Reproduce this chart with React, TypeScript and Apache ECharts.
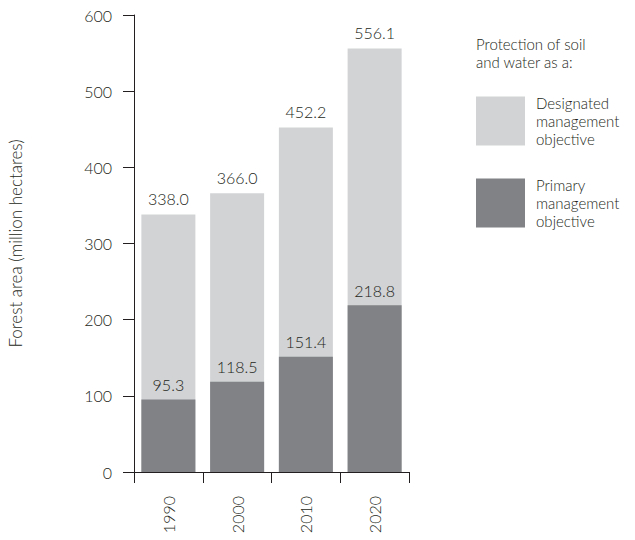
import React, { useEffect, useRef } from "react";
import * as echarts from "echarts";

// Forest area designated for protection of soil and water (million hectares)
const years = ["1990", "2000", "2010", "2020"];
const designatedValues = [338.0, 366.0, 452.2, 556.1];
const primaryValues = [95.3, 118.5, 151.4, 218.8];
const yTicks = { min: 0, max: 600, interval: 100 };

const seriesNames = ["Designated", "Primary"];
const legendLabels: Record<string, string> = {
  Designated: "Designated\nmanagement\nobjective",
  Primary: "Primary\nmanagement\nobjective",
};

const LIGHT = "#d1d3d4";
const DARK = "#808285";
const INK = "#231f20";
const FONT = "Lato, 'Noto Sans', sans-serif";
const WEIGHT = 300;

export default function App() {
  const ref = useRef<HTMLDivElement>(null);

  useEffect(() => {
    if (!ref.current) return;
    const chart = echarts.init(ref.current, undefined, { renderer: "svg" });

    const barLabel = (distance: number) => ({
      show: true,
      position: "top" as const,
      distance,
      fontSize: 16,
      fontWeight: WEIGHT,
      fontFamily: FONT,
      color: INK,
      formatter: (p: any) => Number(p.value).toFixed(1),
    });

    chart.setOption({
      animation: false,
      backgroundColor: "#ffffff",
      textStyle: { fontFamily: FONT },
      grid: {
        left: 134,
        right: 226,
        top: 15,
        bottom: 68,
        containLabel: false,
        outerBoundsMode: "none",
      },
      legend: {
        orient: "vertical",
        left: 476,
        top: 94,
        padding: 0,
        itemWidth: 49,
        itemHeight: 49,
        itemGap: 28,
        icon: "rect",
        selectedMode: false,
        data: seriesNames,
        formatter: (name: string) => legendLabels[name],
        textStyle: {
          fontSize: 15,
          fontWeight: WEIGHT,
          lineHeight: 18,
          color: INK,
          fontFamily: FONT,
          padding: [0, 0, 0, 6],
        },
      },
      graphic: [
        {
          type: "text",
          left: 476,
          top: 35,
          style: {
            text: "Protection of soil\nand water as a:",
            fontSize: 15,
            fontWeight: WEIGHT,
            lineHeight: 18,
            fill: INK,
            fontFamily: FONT,
          },
        },
      ],
      xAxis: {
        type: "category",
        data: years,
        axisLine: { show: true, lineStyle: { color: INK, width: 1 } },
        axisTick: { show: true, length: 11, lineStyle: { color: INK } },
        axisLabel: {
          rotate: 90,
          margin: 24,
          fontSize: 16,
          fontWeight: WEIGHT,
          color: INK,
          fontFamily: FONT,
        },
      },
      yAxis: {
        type: "value",
        min: yTicks.min,
        max: yTicks.max,
        interval: yTicks.interval,
        name: "Forest area (million hectares)",
        nameLocation: "middle",
        nameGap: 110,
        nameTextStyle: {
          fontSize: 17,
          fontWeight: WEIGHT,
          color: INK,
          fontFamily: FONT,
        },
        axisLine: { show: true, lineStyle: { color: INK, width: 1 } },
        axisTick: { show: true, length: 11, lineStyle: { color: INK } },
        splitLine: { show: false },
        axisLabel: {
          margin: 22,
          fontSize: 16,
          fontWeight: WEIGHT,
          color: INK,
          fontFamily: FONT,
        },
      },
      series: [
        {
          name: "Designated",
          type: "bar",
          data: designatedValues,
          barWidth: 54,
          barGap: "-100%",
          itemStyle: { color: LIGHT },
          label: barLabel(8),
          z: 1,
        },
        {
          name: "Primary",
          type: "bar",
          data: primaryValues,
          barWidth: 54,
          barGap: "-100%",
          itemStyle: { color: DARK },
          label: barLabel(7),
          z: 2,
        },
      ],
    });

    return () => chart.dispose();
  }, []);

  return (
    <div
      ref={ref}
      style={{ position: "absolute", left: 0, top: 0, width: 635, height: 540 }}
    />
  );
}
